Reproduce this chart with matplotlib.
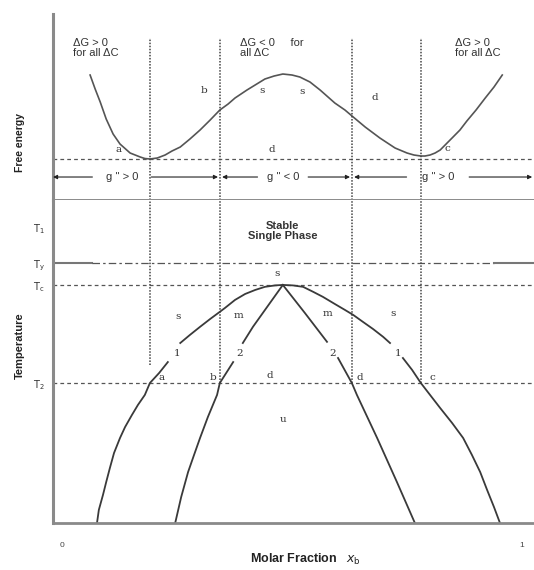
import matplotlib
matplotlib.use("Agg")
import matplotlib.pyplot as plt

plt.rcParams['font.family'] = ['Liberation Sans', 'DejaVu Sans']

# free energy of mixing vs composition (arbitrary units)
x_g = [0.061, 0.072, 0.083, 0.096, 0.111, 0.126, 0.148, 0.170, 0.180, 0.191, 0.207, 0.224,
       0.239, 0.257, 0.278, 0.300, 0.322, 0.343, 0.361, 0.376, 0.402, 0.441, 0.461, 0.480,
       0.500, 0.517, 0.539, 0.561, 0.593, 0.615, 0.633, 0.659, 0.691, 0.724, 0.750, 0.765,
       0.780, 0.789, 0.800, 0.811, 0.822, 0.850, 0.865, 0.880, 0.900, 0.920, 0.939, 0.957]
g = [8.4, 7.0, 5.7, 4.0, 2.5, 1.5, 0.6, 0.2, 0.05, 0.0, 0.1, 0.4,
     0.8, 1.2, 2.0, 2.9, 3.9, 4.9, 5.5, 6.1, 6.9, 8.0, 8.3, 8.5,
     8.4, 8.2, 7.7, 6.9, 5.6, 4.9, 4.2, 3.2, 2.1, 1.1, 0.6, 0.4,
     0.3, 0.3, 0.4, 0.6, 0.9, 2.2, 2.9, 3.8, 4.9, 6.1, 7.2, 8.4]

# compositions of the dotted guide lines
x_binodal = [0.191, 0.780]
x_spinodal = [0.343, 0.630]

# temperature levels (arbitrary units, Tc = 100)
t_levels = [58.8, 100.0, 109.2, 124.4]
t_names = [r'$\mathrm{T_2}$', r'$\mathrm{T_c}$', r'$\mathrm{T_y}$', r'$\mathrm{T_1}$']

# binodal (outer) and spinodal (inner) curves, split where the labels sit
outer_left_up_x = [0.480, 0.463, 0.441, 0.420, 0.398, 0.376, 0.354, 0.343, 0.322, 0.300, 0.278, 0.257]
outer_left_up_t = [100.0, 99.8, 99.2, 97.9, 96.2, 93.7, 90.3, 88.7, 85.7, 82.4, 79.0, 75.6]
outer_left_lo_x = [0.230, 0.211, 0.191, 0.180, 0.165, 0.152, 0.137, 0.126, 0.113, 0.104, 0.096, 0.089, 0.080, 0.076]
outer_left_lo_t = [67.6, 63.0, 58.8, 53.8, 49.6, 45.4, 40.3, 35.7, 29.4, 23.1, 17.2, 11.8, 5.5, 0.0]

inner_left_up_x = [0.480, 0.446, 0.415, 0.393]
inner_left_up_t = [100.0, 90.8, 82.4, 75.6]
inner_left_lo_x = [0.372, 0.343, 0.337, 0.317, 0.300, 0.287, 0.274, 0.259, 0.246]
inner_left_lo_t = [67.6, 58.8, 53.8, 44.5, 35.7, 28.6, 21.4, 10.9, 0.0]

inner_right_up_x = [0.480, 0.528, 0.576]
inner_right_up_t = [100.0, 88.2, 76.1]
inner_right_lo_x = [0.600, 0.630, 0.641, 0.685, 0.728, 0.767]
inner_right_lo_t = [69.3, 58.8, 53.8, 35.7, 17.2, 0.0]

outer_right_up_x = [0.480, 0.502, 0.524, 0.546, 0.567, 0.593, 0.615, 0.633, 0.654, 0.676, 0.698, 0.713]
outer_right_up_t = [100.0, 99.8, 99.2, 97.1, 95.0, 92.0, 89.5, 87.4, 84.5, 81.5, 78.2, 75.6]
outer_right_lo_x = [0.741, 0.761, 0.780, 0.800, 0.822, 0.848, 0.872, 0.891, 0.909, 0.924, 0.939, 0.952]
outer_right_lo_t = [69.3, 64.3, 58.8, 53.8, 48.3, 42.0, 35.7, 28.6, 21.4, 13.9, 6.7, 0.0]

fig = plt.figure(figsize=(5.34, 5.70), dpi=100)
ax1 = fig.add_axes([0.0993, 0.6491, 0.9007, 0.3263])
ax2 = fig.add_axes([0.0993, 0.0825, 0.9007, 0.5667])

xlim = (-0.0196, 1.026)
spine_col = '#8a8a8a'
line_col = '#3a3a3a'
dash_col = '#555555'
txt_col = '#333333'

for ax in (ax1, ax2):
    ax.set_xlim(*xlim)
    ax.spines['top'].set_visible(False)
    ax.spines['right'].set_visible(False)
    ax.spines['left'].set_color(spine_col)
    ax.spines['left'].set_linewidth(2.2)
    ax.spines['bottom'].set_color(spine_col)
    ax.tick_params(length=0)
ax1.spines['bottom'].set_linewidth(1.4)
ax2.spines['bottom'].set_linewidth(2.0)

# ---- free energy panel
ax1.set_ylim(-4.1, 14.5)
ax1.set_xticks([])
ax1.set_yticks([])
ax1.plot(x_g, g, color='#555555', lw=1.2)
ax1.axhline(0.0, color=dash_col, lw=0.9, ls=(0, (3, 2.5)))
ax1.vlines(x_binodal + x_spinodal, -4.1, 12.1, color='#444444', lw=1.1, ls=(0, (1, 1)))

fs = 8
ax1.text(0.024, 12.1, 'ΔG > 0\nfor all ΔC', fontsize=fs, va='top', linespacing=1.05, color=txt_col)
ax1.text(0.387, 12.1, 'ΔG < 0     for\nall ΔC', fontsize=fs, va='top', linespacing=1.05, color=txt_col)
ax1.text(0.854, 12.1, 'ΔG > 0\nfor all ΔC', fontsize=fs, va='top', linespacing=1.05, color=txt_col)

fe_labels = [('b', 0.309, 6.9), ('s', 0.435, 6.9), ('s', 0.522, 6.8), ('d', 0.680, 6.2),
             ('a', 0.122, 1.0), ('d', 0.457, 1.0), ('c', 0.837, 1.1)]
for s, xx, yy in fe_labels:
    ax1.text(xx, yy, s, fontsize=7.5, ha='center', va='center', family='DejaVu Serif', color=txt_col)

# curvature arrows
ya = -1.8
arr = dict(arrowstyle='-|>', color='#222222', lw=0.8, mutation_scale=6, shrinkA=0, shrinkB=0)
bounds = [xlim[0], x_spinodal[0], x_spinodal[1], xlim[1] - 0.004]
words = ["g '' > 0", "g '' < 0", "g '' > 0"]
centers = [0.130, 0.480, 0.817]
half = [0.064, 0.055, 0.068]
for i in range(3):
    left = bounds[i] + (0.0 if i == 0 else 0.005)
    right = bounds[i + 1] - (0.0 if i == 2 else 0.004)
    ax1.annotate('', xy=(left, ya), xytext=(centers[i] - half[i], ya), arrowprops=arr)
    ax1.annotate('', xy=(right, ya), xytext=(centers[i] + half[i], ya), arrowprops=arr)
    ax1.text(centers[i], ya, words[i], fontsize=fs, ha='center', va='center', color=txt_col)

ax1.text(-0.069, 0.31, 'Free energy', transform=ax1.transAxes, rotation=90,
         ha='center', va='center', fontsize=7.5, fontweight='bold', color='#222222')

# ---- temperature panel
ax2.set_ylim(0, 135.7)
ax2.set_xticks([0, 1])
ax2.set_xticklabels(['0', '1'], fontsize=6, color='#444444')
ax2.tick_params(axis='x', pad=14)
ax2.set_yticks(t_levels)
ax2.set_yticklabels(t_names, fontsize=7, color=txt_col)
ax2.tick_params(axis='y', pad=6)

ax2.axhline(t_levels[0], color=dash_col, lw=0.9, ls=(0, (3, 2.5)))
ax2.axhline(t_levels[1], color=dash_col, lw=0.9, ls=(0, (3, 2.5)))
ax2.plot([xlim[0], 0.065], [t_levels[2]] * 2, color='#777777', lw=1.5)
ax2.plot([0.065, 0.939], [t_levels[2]] * 2, color=dash_col, lw=0.9, ls=(0, (6, 2.5, 2, 2.5)))
ax2.plot([0.939, xlim[1]], [t_levels[2]] * 2, color='#777777', lw=1.5)

ax2.vlines(x_binodal[0], 66.4, 135.7, color='#444444', lw=1.1, ls=(0, (1, 1)))
ax2.vlines([x_spinodal[0], x_spinodal[1], x_binodal[1]], t_levels[0], 135.7,
           color='#444444', lw=1.1, ls=(0, (1, 1)))

for xs, ts in [(outer_left_up_x, outer_left_up_t), (outer_left_lo_x, outer_left_lo_t),
               (inner_left_up_x, inner_left_up_t), (inner_left_lo_x, inner_left_lo_t),
               (inner_right_up_x, inner_right_up_t), (inner_right_lo_x, inner_right_lo_t),
               (outer_right_up_x, outer_right_up_t), (outer_right_lo_x, outer_right_lo_t)]:
    ax2.plot(xs, ts, color=line_col, lw=1.3)

ax2.text(0.480, 122.7, 'Stable\nSingle Phase', fontsize=8, ha='center', va='center',
         fontweight='bold', linespacing=1.0, color=txt_col)

td_labels = [('s', 0.467, 105.0), ('s', 0.252, 86.6), ('m', 0.383, 87.0), ('m', 0.578, 87.8),
             ('s', 0.720, 87.8), ('1', 0.250, 71.4), ('2', 0.387, 71.4), ('2', 0.589, 71.4),
             ('1', 0.730, 71.4), ('a', 0.217, 61.3), ('b', 0.328, 61.3), ('d', 0.452, 61.8),
             ('d', 0.648, 61.3), ('c', 0.804, 61.3), ('u', 0.480, 43.3)]
for s, xx, yy in td_labels:
    ax2.text(xx, yy, s, fontsize=7.5, ha='center', va='center', family='DejaVu Serif', color=txt_col)

ax2.text(-0.069, 0.55, 'Temperature', transform=ax2.transAxes, rotation=90,
         ha='center', va='center', fontsize=8, fontweight='bold', color='#222222')

fig.text(0.572, 0.006, r'Molar Fraction   $\it{x}_{\mathrm{b}}$', ha='center', va='bottom',
         fontsize=9, fontweight='bold', color='#222222')

fig.savefig('out.png', dpi=100)
